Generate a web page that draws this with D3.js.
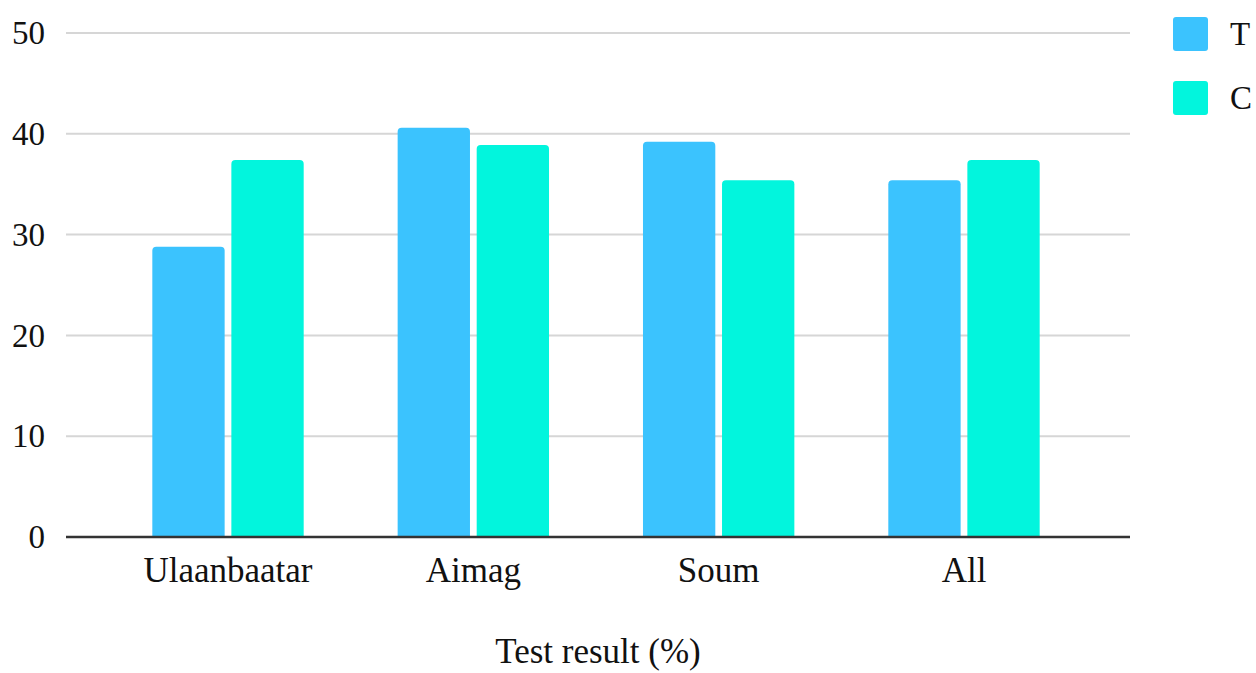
<!DOCTYPE html>
<html>
<head>
<meta charset="utf-8">
<script src="https://cdn.jsdelivr.net/npm/d3@7"></script>
<style>
  body { margin: 0; background: #fff; }
  text { font-family: "Liberation Serif", "Times New Roman", serif; fill: #111; }
</style>
</head>
<body>
<div id="chart"></div>
<script>
// data
var categories = ["Ulaanbaatar", "Aimag", "Soum", "All"];
var seriesNames = ["T", "C"];
var valuesT = [28.8, 40.6, 39.2, 35.4];
var valuesC = [37.4, 38.9, 35.4, 37.4];
var yTicks = [0, 10, 20, 30, 40, 50];
var colors = ["#3bc3fe", "#02f5dd"];

var width = 1256, height = 673;
var margin = {top: 33, right: 126, bottom: 136, left: 66};
var plotW = width - margin.left - margin.right,
    plotH = height - margin.top - margin.bottom;

var svg = d3.select("#chart").append("svg")
  .attr("width", width)
  .attr("height", height);

var g = svg.append("g")
  .attr("transform", "translate(" + margin.left + "," + margin.top + ")");

var y = d3.scaleLinear().domain([0, 50]).range([plotH, 0]);

var x0 = d3.scaleBand()
  .domain(categories)
  .range([-2, plotW - 2])
  .paddingInner(0.383)
  .paddingOuter(0.36);

var x1 = d3.scaleBand()
  .domain(seriesNames)
  .range([0, x0.bandwidth()])
  .paddingInner(0.085);

// gridlines
g.selectAll(".grid")
  .data(yTicks.filter(function(d) { return d > 0; }))
  .enter().append("line")
  .attr("class", "grid")
  .attr("x1", 0)
  .attr("x2", plotW)
  .attr("y1", function(d) { return y(d); })
  .attr("y2", function(d) { return y(d); })
  .attr("stroke", "#d6d6d6")
  .attr("stroke-width", 2);

// y tick labels
g.selectAll(".ylab")
  .data(yTicks)
  .enter().append("text")
  .attr("class", "ylab")
  .attr("x", -21)
  .attr("y", function(d) { return y(d); })
  .attr("dy", "0.34em")
  .attr("text-anchor", "end")
  .style("font-size", "33px")
  .text(function(d) { return d; });

var rows = categories.map(function(c, i) {
  return {cat: c, vals: [valuesT[i], valuesC[i]]};
});

var group = g.selectAll(".grp")
  .data(rows)
  .enter().append("g")
  .attr("class", "grp")
  .attr("transform", function(d) { return "translate(" + x0(d.cat) + ",0)"; });

// bars with rounded top corners
group.selectAll("path")
  .data(function(d) { return d.vals.map(function(v, j) { return {s: seriesNames[j], v: v, j: j}; }); })
  .enter().append("path")
  .attr("fill", function(d) { return colors[d.j]; })
  .attr("d", function(d) {
    var bx = x1(d.s), bw = x1.bandwidth(), top = y(d.v), bot = y(0), r = 4;
    return "M" + bx + "," + bot +
      "V" + (top + r) +
      "Q" + bx + "," + top + " " + (bx + r) + "," + top +
      "H" + (bx + bw - r) +
      "Q" + (bx + bw) + "," + top + " " + (bx + bw) + "," + (top + r) +
      "V" + bot + "Z";
  });

// baseline
g.append("line")
  .attr("x1", 0)
  .attr("x2", plotW)
  .attr("y1", y(0))
  .attr("y2", y(0))
  .attr("stroke", "#333")
  .attr("stroke-width", 2.5);

// x labels
g.selectAll(".xlab")
  .data(categories)
  .enter().append("text")
  .attr("class", "xlab")
  .attr("x", function(d) { return x0(d) + x0.bandwidth() / 2; })
  .attr("y", plotH + 45)
  .attr("text-anchor", "middle")
  .style("font-size", "35px")
  .text(function(d) { return d; });

// axis title
svg.append("text")
  .attr("x", margin.left + plotW / 2)
  .attr("y", 663)
  .attr("text-anchor", "middle")
  .style("font-size", "35px")
  .text("Test result (%)");

// legend
var legend = svg.selectAll(".legend")
  .data(seriesNames)
  .enter().append("g")
  .attr("class", "legend")
  .attr("transform", function(d, i) { return "translate(1173," + (17 + i * 64) + ")"; });

legend.append("rect")
  .attr("width", 35)
  .attr("height", 34)
  .attr("rx", 3)
  .attr("fill", function(d, i) { return colors[i]; });

legend.append("text")
  .attr("x", 57)
  .attr("y", 28)
  .style("font-size", "33px")
  .text(function(d) { return d; });
</script>
</body>
</html>
